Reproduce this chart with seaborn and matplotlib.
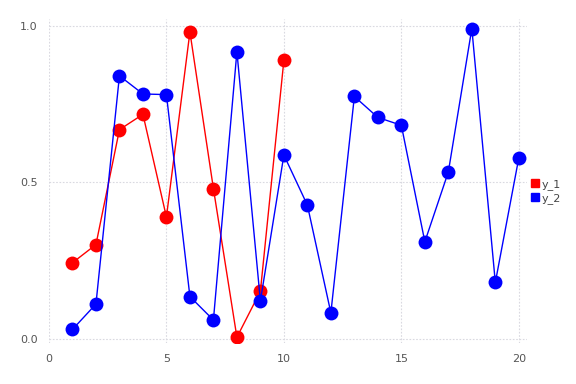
import numpy as np
import pandas as pd
import matplotlib
matplotlib.use("Agg")
import matplotlib.pyplot as plt
import seaborn as sns
from matplotlib.lines import Line2D

# data
x_1 = list(range(1, 11))
y_1 = [0.243, 0.301, 0.668, 0.717, 0.389, 0.980, 0.480, 0.005, 0.152, 0.890]
x_2 = list(range(1, 21))
y_2 = [0.030, 0.111, 0.840, 0.782, 0.780, 0.135, 0.060, 0.917, 0.121, 0.587,
       0.427, 0.083, 0.774, 0.707, 0.682, 0.310, 0.533, 0.991, 0.180, 0.578]
series_names = ["y_1", "y_2"]
series_colors = ["#ff0000", "#0000ff"]
x_ticks = [0, 5, 10, 15, 20]
y_ticks = [0.0, 0.5, 1.0]

df = pd.concat([
    pd.DataFrame({"x": x_1, "y": y_1, "series": series_names[0]}),
    pd.DataFrame({"x": x_2, "y": y_2, "series": series_names[1]}),
])

sns.set_style("white")
plt.rcParams["font.family"] = ["DejaVu Sans"]

fig = plt.figure(figsize=(5.76, 3.84), dpi=100)
ax = fig.add_axes([0.085, 0.107, 0.83, 0.844])

sns.lineplot(data=df, x="x", y="y", hue="series", palette=series_colors,
             marker="o", markersize=10, markeredgewidth=0, linewidth=1,
             ax=ax, legend=False, sort=False)

ax.set_xlim(0, 20.35)
ax.set_ylim(-0.013, 1.022)
ax.set_xticks(x_ticks)
ax.set_yticks(y_ticks)
ax.set_xticklabels([str(t) for t in x_ticks])
ax.set_yticklabels([f"{t:.1f}" for t in y_ticks])
ax.set_xlabel("")
ax.set_ylabel("")
ax.grid(True, color="#d9d9e0", linestyle=(0, (1.5, 1.5)), linewidth=0.8)
ax.set_axisbelow(True)
for s in ax.spines.values():
    s.set_visible(False)
ax.tick_params(length=0, labelsize=8, colors="#555555", pad=8)

handles = [Line2D([], [], marker="s", linestyle="none", color=c, markersize=6)
           for c in series_colors]
ax.legend(handles, series_names, loc="center left", bbox_to_anchor=(0.992, 0.468),
          frameon=False, fontsize=8, handletextpad=0.1, labelspacing=0.3,
          borderaxespad=0.2, handlelength=1.0, labelcolor="#444444")

fig.savefig("out.png", dpi=100)
